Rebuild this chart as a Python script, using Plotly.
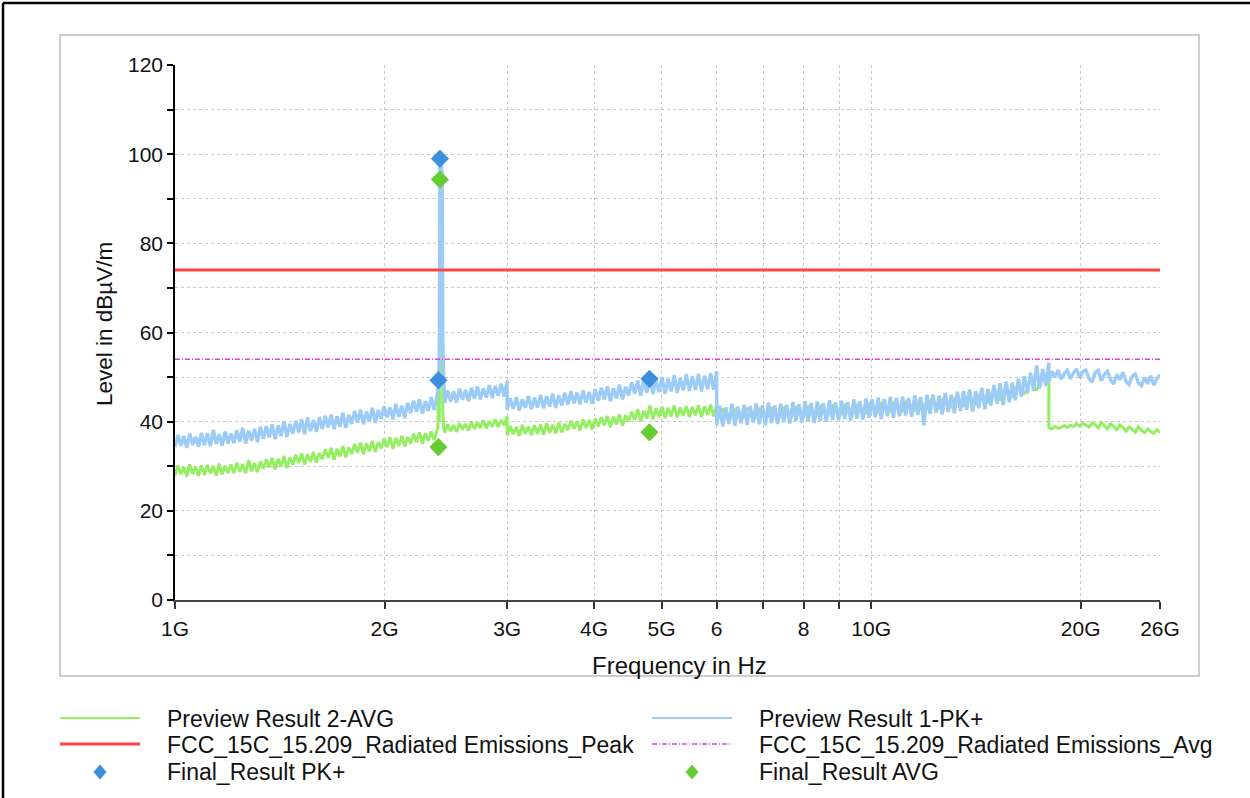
import numpy as np
import plotly.graph_objects as go

# ---------------- data (frequency in GHz, level in dBuV/m) ----------------
# Preview Result 1-PK+ , sweep segments
pk_seg1_range = (1.0, 2.38)
pk_seg1 = [34.3, 37.0, 34.6, 36.8, 34.1, 37.3, 34.8, 36.6, 34.4, 37.5,
           34.7, 37.4, 34.5, 38.2, 35.0, 37.2, 34.6, 37.8, 35.1, 37.3,
           35.2, 38.1, 35.5, 38.6, 35.1, 38.0, 35.8, 38.4, 35.4, 38.9,
           36.2, 39.0, 36.5, 39.4, 36.1, 39.2, 36.8, 40.1, 36.6, 39.5,
           37.3, 40.2, 37.6, 40.5, 37.2, 40.9, 37.9, 40.4, 37.7, 41.0,
           38.4, 41.3, 38.7, 41.6, 38.3, 41.2, 38.9, 42.0, 38.6, 41.5,
           39.5, 42.4, 39.8, 42.7, 39.4, 42.3, 40.0, 43.1, 39.7, 42.6,
           40.6, 43.5, 40.9, 43.2, 40.5, 44.0, 41.1, 43.6, 40.8, 44.2,
           41.9, 44.7, 42.2, 45.0, 41.8, 44.6, 42.4, 45.5, 42.6, 46.0]
spike_ghz = [2.386, 2.392, 2.397, 2.400, 2.402, 2.405, 2.410, 2.415, 2.420, 2.425, 2.432]
pk_spike = [47.5, 49.5, 55.0, 80.0, 98.5, 97.0, 96.5, 98.0, 95.0, 58.0, 50.0]
pk_seg2_range = (2.44, 3.0)
pk_seg2 = [44.2, 47.0, 44.5, 46.8, 44.3, 47.4, 44.9, 47.1, 44.6, 47.6, 45.1,
           47.9, 45.0, 47.5, 45.4, 48.2, 45.3, 48.0, 45.8, 48.5, 45.6, 49.2]
pk_seg3_range = (3.0, 6.0)
pk_seg3 = [42.6, 45.2, 42.9, 45.5, 42.5, 45.0, 43.1, 45.8, 42.8, 45.4,
           43.2, 46.0, 43.0, 45.7, 43.4, 46.3, 43.1, 45.9, 43.6, 46.5,
           43.8, 46.8, 44.1, 46.5, 43.9, 47.0, 44.3, 46.7, 44.0, 47.3,
           44.7, 47.6, 45.0, 47.9, 44.6, 47.5, 45.2, 48.3, 45.0, 47.8,
           45.9, 48.8, 46.3, 49.2, 45.8, 49.6, 46.5, 50.3, 46.2, 49.5,
           46.6, 50.0, 46.3, 49.6, 46.8, 50.4, 46.5, 49.8, 47.0, 50.6,
           46.9, 50.2, 47.1, 50.7, 46.8, 50.3, 47.3, 50.9, 47.2, 51.3]
pk_seg4_range = (6.0, 18.0)
pk_seg4 = [39.2, 43.6, 38.9, 43.2, 39.5, 44.0, 39.1, 43.4, 39.6, 43.8,
           39.3, 43.5, 39.8, 44.1, 39.4, 43.7, 39.2, 44.3, 39.7, 43.6,
           39.5, 44.0, 39.9, 43.8, 39.6, 44.4, 40.1, 43.9, 39.8, 44.6,
           40.0, 44.2, 39.7, 44.5, 40.2, 44.1, 40.0, 44.8, 40.4, 44.3,
           40.3, 44.7, 40.6, 44.4, 40.2, 45.0, 40.7, 44.6, 40.5, 45.2,
           40.8, 45.0, 41.0, 45.4, 40.6, 45.1, 41.2, 45.6, 40.9, 45.3,
           41.2, 45.6, 41.4, 45.3, 41.1, 45.9, 41.5, 45.5, 39.2, 46.0,
           41.7, 46.1, 42.0, 45.8, 41.6, 46.4, 42.2, 46.0, 41.9, 46.7,
           42.4, 46.9, 42.7, 47.2, 42.3, 46.8, 43.0, 47.6, 42.8, 47.3,
           43.6, 48.2, 44.0, 48.6, 43.7, 49.0, 44.4, 48.8, 44.8, 49.6,
           45.6, 50.2, 46.3, 51.0, 46.9, 52.6, 47.4, 51.8, 48.0, 53.2]
pk_seg5_range = (18.0, 26.0)
pk_seg5 = [49.0, 51.3, 50.0, 51.6, 49.5, 50.8, 51.5, 49.6, 51.0, 51.8,
           49.8, 51.2, 51.6, 49.7, 48.9, 51.0, 51.5, 49.2, 50.6, 51.3,
           49.3, 48.5, 50.6, 49.4, 51.1, 49.0, 48.3, 50.2, 50.7, 48.7,
           48.1, 49.9, 48.5, 50.3, 48.2, 49.6, 50.6]

# Preview Result 2-AVG , sweep segments
avg_seg1 = [27.9, 30.1, 28.2, 29.8, 27.7, 30.4, 28.3, 29.9, 27.8, 30.2,
            28.0, 30.3, 28.4, 30.0, 27.9, 30.6, 28.2, 30.1, 28.5, 30.4,
            28.5, 30.8, 28.8, 30.5, 28.4, 31.4, 28.9, 30.7, 28.7, 31.1,
            29.4, 31.6, 29.7, 31.9, 29.3, 31.7, 29.9, 32.3, 29.6, 32.0,
            30.4, 32.6, 30.7, 32.9, 30.3, 32.7, 31.0, 33.2, 30.8, 33.0,
            31.6, 33.8, 31.9, 34.1, 31.5, 33.9, 32.2, 34.5, 32.0, 34.2,
            32.8, 35.0, 33.1, 35.3, 32.7, 35.1, 33.4, 35.7, 33.2, 35.4,
            34.0, 36.2, 34.3, 36.5, 33.9, 36.3, 34.6, 36.8, 34.4, 36.6,
            35.1, 37.3, 35.4, 37.6, 35.0, 37.4, 35.7, 37.8, 35.9, 38.2]
avg_spike = [38.5, 49.0, 40.0, 60.0, 76.0, 94.0, 92.0, 77.0, 57.0, 42.0, 38.5]
avg_seg2 = [37.6, 39.4, 37.9, 39.2, 37.7, 39.7, 38.2, 39.5, 38.0, 40.0, 38.4,
            39.8, 38.6, 40.3, 38.5, 40.1, 38.9, 40.6, 38.8, 40.4, 39.2, 41.2]
avg_seg3 = [36.9, 39.0, 37.2, 38.8, 36.8, 39.3, 37.3, 38.9, 37.0, 39.2,
            37.3, 39.4, 37.1, 39.6, 37.5, 39.3, 37.4, 39.8, 37.6, 39.5,
            38.1, 40.2, 38.4, 40.0, 38.0, 40.5, 38.6, 40.3, 38.3, 40.7,
            38.9, 41.0, 39.2, 41.3, 38.8, 41.1, 39.4, 41.6, 39.1, 41.4,
            40.1, 42.3, 40.4, 42.8, 40.0, 42.5, 40.7, 43.6, 40.5, 43.0,
            41.0, 43.4, 40.8, 43.1, 41.2, 43.6, 40.9, 43.2, 41.3, 43.5,
            41.1, 43.3, 41.4, 43.7, 41.0, 43.4, 41.5, 43.8, 41.2, 44.0]
avg_seg4 = [40.2, 42.9, 40.0, 42.6, 40.4, 43.1, 40.3, 42.8, 40.6, 43.2,
            40.5, 43.0, 40.8, 43.4, 40.7, 43.5, 41.0, 43.7, 41.2, 43.8,
            41.3, 44.0, 41.5, 44.1, 41.6, 44.3, 41.8, 44.4, 42.0, 44.6,
            42.1, 44.8, 42.3, 45.0, 42.5, 45.2, 42.8, 45.5, 43.1, 45.8,
            43.4, 46.2, 43.8, 46.6, 44.2, 47.1, 44.8, 47.7, 45.4, 48.4,
            46.2, 49.2, 47.0, 50.0, 50.5]
avg_seg5 = [38.6, 38.4, 38.9, 38.5, 38.8, 39.1, 38.7, 39.2, 38.9, 39.5,
            39.0, 39.6, 39.2, 38.8, 39.7, 39.3, 38.6, 39.8, 39.1, 38.4,
            39.5, 38.9, 38.2, 39.3, 38.7, 37.9, 38.8, 38.3, 37.6, 38.9,
            38.1, 37.5, 38.4, 37.8, 37.4, 38.2, 37.6]

# limits
limit_range_ghz = [1.0, 26.0]
limit_peak = 74.0
limit_avg = 54.0

# final results
final_pk_ghz = [2.39, 2.402, 4.804]
final_pk = [49.3, 99.0, 49.6]
final_avg_ghz = [2.39, 2.402, 4.804]
final_avg = [34.3, 94.3, 37.6]

x_tickvals_ghz = [1, 2, 3, 4, 5, 6, 7, 8, 9, 10, 20, 26]
x_ticktext = ["1G", "2G", "3G", "4G", "5G", "6", "", "8", "", "10G", "20G", "26G"]
y_tickvals = [0, 10, 20, 30, 40, 50, 60, 70, 80, 90, 100, 110, 120]
y_ticktext = ["0", "", "20", "", "40", "", "60", "", "80", "", "100", "", "120"]


def sweep(rng, vals):
    return list(np.geomspace(rng[0], rng[1], len(vals)))


pk_f = (sweep(pk_seg1_range, pk_seg1) + spike_ghz + sweep(pk_seg2_range, pk_seg2)
        + sweep(pk_seg3_range, pk_seg3) + sweep(pk_seg4_range, pk_seg4) + sweep(pk_seg5_range, pk_seg5))
pk_v = pk_seg1 + pk_spike + pk_seg2 + pk_seg3 + pk_seg4 + pk_seg5
avg_f = (sweep(pk_seg1_range, avg_seg1) + spike_ghz + sweep(pk_seg2_range, avg_seg2)
         + sweep(pk_seg3_range, avg_seg3) + sweep(pk_seg4_range, avg_seg4) + sweep(pk_seg5_range, avg_seg5))
avg_v = avg_seg1 + avg_spike + avg_seg2 + avg_seg3 + avg_seg4 + avg_seg5

G = 1e9
FONT = "Arial, Liberation Sans, sans-serif"
C_AVG = "#94EE62"
C_PK = "#9CCBF8"
C_RED = "#FF4444"
C_MAG = "#E838E8"
C_DPK = "#3B8FDB"
C_DAVG = "#66CC33"
MAG_DASH = "5px,2px,1px,2px"

fig = go.Figure()
fig.add_trace(go.Scatter(x=[f * G for f in avg_f], y=avg_v, mode="lines", name="Preview Result 2-AVG",
                         line=dict(color=C_AVG, width=3.0, simplify=False)))
fig.add_trace(go.Scatter(x=[f * G for f in pk_f], y=pk_v, mode="lines", name="Preview Result 1-PK+",
                         line=dict(color=C_PK, width=3.4, simplify=False)))
fig.add_trace(go.Scatter(x=[f * G for f in limit_range_ghz], y=[limit_peak] * 2, mode="lines",
                         name="FCC_15C_15.209_Radiated Emissions_Peak", line=dict(color=C_RED, width=3)))
fig.add_trace(go.Scatter(x=[f * G for f in limit_range_ghz], y=[limit_avg] * 2, mode="lines",
                         name="FCC_15C_15.209_Radiated Emissions_Avg",
                         line=dict(color=C_MAG, width=1.4, dash=MAG_DASH)))
fig.add_trace(go.Scatter(x=[f * G for f in final_pk_ghz], y=final_pk, mode="markers", name="Final_Result PK+",
                         marker=dict(symbol="diamond", size=14, color=C_DPK)))
fig.add_trace(go.Scatter(x=[f * G for f in final_avg_ghz], y=final_avg, mode="markers", name="Final_Result AVG",
                         marker=dict(symbol="diamond", size=14, color=C_DAVG)))

# plot area in screen pixels (page body margin removed by post_script)
L, R, T, B = 175, 1160, 65, 600
W, H = 1250, 798


def px(x):
    return (x - L) / (R - L)


def py(y):
    return (B - y) / (B - T)


shapes = []
# outer frame (top & left edges visible)
shapes.append(dict(type="line", xref="paper", yref="paper", x0=px(3), x1=px(1252), y0=py(3), y1=py(3),
                   line=dict(color="black", width=2.5)))
shapes.append(dict(type="line", xref="paper", yref="paper", x0=px(3), x1=px(3), y0=py(3), y1=py(800),
                   line=dict(color="black", width=2.5)))
# inner chart box
shapes.append(dict(type="rect", xref="paper", yref="paper", x0=px(60), x1=px(1199), y0=py(35), y1=py(676),
                   line=dict(color="#BDBDBD", width=1.5), fillcolor="rgba(0,0,0,0)", layer="below"))

annotations = []
legend_items = [
    ("line", C_AVG, "solid", 1.8, 60, 719, "Preview Result 2-AVG"),
    ("line", C_PK, "solid", 1.8, 652, 719, "Preview Result 1-PK+"),
    ("line", C_RED, "solid", 3, 60, 745, "FCC_15C_15.209_Radiated Emissions_Peak"),
    ("line", C_MAG, MAG_DASH, 1.4, 652, 745, "FCC_15C_15.209_Radiated Emissions_Avg"),
    ("diamond", C_DPK, None, 0, 60, 772, "Final_Result PK+"),
    ("diamond", C_DAVG, None, 0, 652, 772, "Final_Result AVG"),
]
for kind, col, dash, wid, x0, y0, text in legend_items:
    if kind == "line":
        shapes.append(dict(type="line", xref="paper", yref="paper", x0=px(x0), x1=px(x0 + 80),
                           y0=py(y0 - 1), y1=py(y0 - 1), line=dict(color=col, width=wid, dash=dash)))
    else:
        cx, cy = x0 + 40, y0
        path = "M {a},{b} L {c},{d} L {a},{e} L {f},{d} Z".format(
            a=px(cx), b=py(cy - 7.5), c=px(cx + 6.5), d=py(cy), e=py(cy + 7.5), f=px(cx - 6.5))
        shapes.append(dict(type="path", xref="paper", yref="paper", path=path,
                           fillcolor=col, line=dict(color=col, width=0)))
    annotations.append(dict(xref="paper", yref="paper", x=px(x0 + 105), y=py(y0), text=text,
                            showarrow=False, xanchor="left", yanchor="middle",
                            font=dict(family=FONT, size=23, color="#111111")))

# axis titles as annotations for exact placement
annotations.append(dict(xref="paper", yref="paper", x=px(679), y=py(665), text="Frequency in Hz",
                        showarrow=False, xanchor="center", yanchor="middle",
                        font=dict(family=FONT, size=24, color="#111111")))
annotations.append(dict(xref="paper", yref="paper", x=px(104), y=py(324), text="Level in dBµV/m",
                        showarrow=False, textangle=-90, xanchor="center", yanchor="middle",
                        font=dict(family=FONT, size=22.5, color="#111111")))

fig.update_layout(
    width=W, height=H,
    margin=dict(l=L, r=W - R, t=T, b=H - B, pad=0),
    paper_bgcolor="white", plot_bgcolor="white",
    showlegend=False,
    font=dict(family=FONT, size=21, color="#111111"),
    shapes=shapes, annotations=annotations,
)
fig.update_xaxes(type="log", range=[np.log10(1 * G), np.log10(26 * G)],
                 tickvals=[v * G for v in x_tickvals_ghz], ticktext=x_ticktext,
                 showgrid=True, gridcolor="#C8C8C8", griddash="dot", gridwidth=1,
                 showline=True, linecolor="#444444", linewidth=2,
                 ticks="outside", ticklen=7, tickwidth=1.5, tickcolor="#333333",
                 ticklabelstandoff=2, zeroline=False,
                 tickfont=dict(family=FONT, size=21, color="#111111"))
fig.update_yaxes(range=[0, 120], tickvals=y_tickvals, ticktext=y_ticktext,
                 showgrid=True, gridcolor="#C8C8C8", griddash="dot", gridwidth=1,
                 showline=True, linecolor="black", linewidth=1.5,
                 ticks="outside", ticklen=6, tickwidth=1.5, tickcolor="black",
                 zeroline=False,
                 tickfont=dict(family=FONT, size=21, color="#111111"))

fig.write_html("out.html", config={"displayModeBar": False},
               post_script="document.body.style.margin='0px';")
